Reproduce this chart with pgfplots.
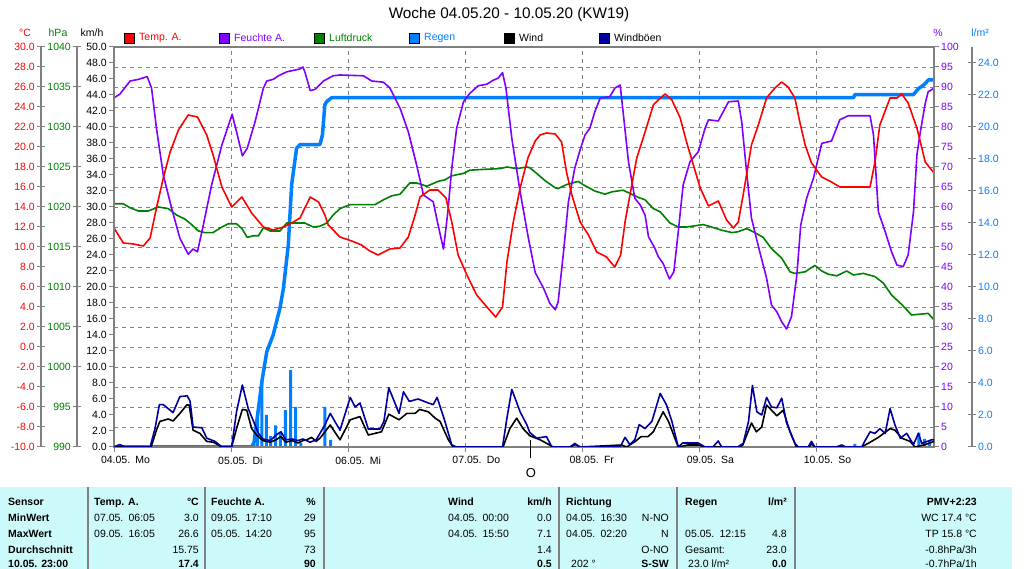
\documentclass[border=0pt]{standalone}
\usepackage{fontspec}
\setmainfont{Liberation Sans}
\usepackage{pgfplots}
\pgfplotsset{compat=1.18}

\definecolor{tred}{RGB}{255,0,0}
\definecolor{hpurple}{RGB}{128,0,255}
\definecolor{pgreen}{RGB}{0,128,0}
\definecolor{rblue}{RGB}{0,128,255}
\definecolor{gnavy}{RGB}{0,0,160}
\definecolor{fgray}{RGB}{128,128,128}
\definecolor{tabcyan}{RGB}{204,250,250}

\newcommand\tfont{\fontsize{10.5}{12}\selectfont}

\pgfplotsset{
  base/.style={scale only axis, width=820pt, height=400pt,
    at={(114pt,122pt)}, anchor=south west, xmin=0, xmax=168},
  hidden/.style={base, hide axis},
  numfmt/.style={/pgf/number format/fixed, /pgf/number format/fixed zerofill,
    /pgf/number format/precision=#1, /pgf/number format/assume math mode=true,
    /pgf/number format/1000 sep={}},
  sideaxis/.style={scale only axis, width=1pt, height=400pt,
    anchor=south west, xmin=0, xmax=1, hide x axis,
    axis line style={fgray, line width=1.2pt, -},
    tick style={fgray, line width=1pt}, major tick length=8pt,
    tick align=center},
}

% time axis: hours since 04.05. 00:00
\pgfplotstableread{
h   T
0     11.9
1.9   10.4
4.0   10.3
6.0   10.1
7.4   10.9
8.7   13.9
10.1  16.9
11.5  19.5
13.2  21.7
15.2  23.2
17.1  23.0
19.0  21.2
20.3  19.2
22.1  16.0
24.1  14.0
26.2  15.0
28.2  13.4
30.6  12.0
32.6  11.7
34.7  12.0
36.4  12.4
38.1  12.9
40.2  15.0
41.9  14.5
43.2  13.2
43.9  12.2
46.3  11.0
48.7  10.6
50.7  10.2
52.4  9.6
54.1  9.2
56.5  9.8
58.6  9.9
60.3  11.0
61.7  13.2
62.7  15.0
64.7  15.7
66.4  15.7
68.0  14.9
69.2  12.5
70.5  9.2
72.3  7.2
74.3  5.2
76.4  4.0
78.2  3.0
79.6  4.0
80.5  8.5
81.8  12.5
83.2  15.9
84.8  18.9
86.3  20.6
87.3  21.2
88.6  21.4
90.4  21.3
91.7  20.5
92.7  17.5
93.8  15.2
95.5  12.5
97.2  11.2
98.9  9.5
100.9 9.0
102.6 8.0
103.8 9.2
104.7 12.5
105.7 15.2
107.1 18.9
108.8 21.5
110.5 24.2
111.5 24.7
112.9 25.3
114.3 24.7
116.0 22.9
117.3 20.5
118.7 18.2
120.1 15.9
121.8 14.1
123.8 14.6
125.5 12.7
126.9 11.9
127.9 12.5
128.9 15.2
130.6 20.2
132.0 22.2
133.7 24.9
135.4 25.9
136.8 26.5
138.1 26.0
139.5 24.9
140.5 22.5
141.6 20.2
142.9 18.4
145.0 17.0
147.0 16.5
148.7 16.0
154.9 16.0
155.9 18.5
156.9 22.2
159.0 24.9
160.4 24.9
161.4 25.3
162.7 24.4
164.5 21.9
166.2 18.5
168.0 17.4
}\temp

\pgfplotstableread{
h   RH
0     87.3
1.2   88.2
3.3   91.5
5.0   91.9
6.8   92.6
7.7   89.7
8.7   79.7
10.1  68
11.8  59.7
13.5  52.2
15.2  48.2
16.2  49.5
17.1  48.8
18.3  55.5
20.0  65.5
22.1  75.5
24.2  83.2
25.1  78.8
26.3  72.8
27.3  74.7
28.9  81.3
30.6  89.7
31.3  91.5
32.6  91.9
33.7  92.8
35.4  93.8
38.1  94.5
38.7  95
39.1  93.8
40.2  89.1
41.2  89.4
42.9  91.5
44.9  92.8
46.3  93
51.1  92.8
52.8  91.5
55.2  91.2
56.5  89.8
58.6  84.7
60.3  78.8
62.0  70.5
63.4  63
65.4  61.3
66.4  55.5
67.5  49.5
68.4  58.8
69.2  69.7
70.2  79.7
71.6  86.3
72.9  88.4
74.6  90.3
76.4  90.7
77.7  91.7
78.7  92.2
79.6  93.6
80.3  89.7
81.5  77.2
83.2  63.8
84.9  52.2
86.3  43.6
88.0  39.7
89.3  35.9
90.4  34.3
91.0  36.3
92.1  48.8
93.1  61.3
94.4  69.7
95.5  74.3
96.5  78
97.5  79.7
98.5  83.8
99.6  87.2
101.6 87.6
102.6 89.7
103.7 90.5
104.3 83.8
105.4 71.3
106.7 62.2
107.8 60.5
108.8 58
109.5 52.6
110.8 49.7
111.5 47.6
112.5 45.9
113.8 42
114.7 43.8
115.6 53.8
116.6 65.5
118.0 71.3
119.7 73.8
121.1 79.7
121.8 81.8
123.8 81.5
125.9 86.3
127.9 86.5
128.6 81.3
129.6 68.8
130.6 57.2
132.3 48.8
133.7 42.2
134.7 35.5
135.8 33.8
136.8 31.3
137.8 29.5
138.8 32.6
139.9 43
140.7 55.5
141.9 62.2
143.3 67.2
145.0 75.9
147.0 76.5
148.7 81.8
150.4 82.8
154.9 82.8
155.6 78
156.6 58.8
158.0 53.8
159.3 48.8
160.4 45.5
161.7 45.1
162.7 48
163.8 58.8
164.5 73
165.2 78.8
166.2 85.9
166.8 88.8
168.0 89.7
}\hum

\pgfplotstableread{
h   p
0     1020.4
1.9   1020.4
3.3   1019.9
5.0   1019.5
7.0   1019.5
9.1   1020.0
11.1  1019.8
12.8  1019.0
14.5  1018.5
15.9  1017.8
17.3  1017.0
18.6  1016.8
20.3  1016.8
22.1  1017.5
23.4  1017.9
25.1  1017.9
26.2  1017.3
27.3  1016.2
28.5  1016.4
29.6  1016.4
30.6  1017.4
32.0  1017.0
34.0  1017.0
35.4  1018.0
39.1  1018.0
40.8  1017.5
42.2  1017.6
43.6  1018.0
44.9  1019.0
46.3  1019.8
48.4  1020.3
53.5  1020.3
55.2  1020.9
56.9  1021.4
58.6  1021.6
60.6  1023.0
62.0  1023.0
64.1  1022.6
66.4  1023.2
67.8  1023.4
69.2  1023.9
71.6  1024.2
72.9  1024.6
75.7  1024.7
79.1  1024.8
80.5  1025.0
82.5  1024.8
84.6  1025.0
85.2  1024.9
86.6  1024.2
88.3  1023.3
90.4  1022.4
91.0  1022.3
92.7  1022.8
95.1  1023.2
96.1  1022.8
98.5  1022.0
100.6 1021.6
102.0 1021.9
104.3 1022.1
105.7 1021.7
107.4 1021.2
108.8 1020.9
110.5 1019.8
111.9 1019.4
113.9 1018.0
115.6 1017.5
117.3 1017.5
120.7 1017.8
122.4 1017.5
124.5 1017.1
126.6 1016.8
127.8 1016.9
129.6 1017.3
131.3 1016.8
133.0 1016.2
134.7 1014.8
136.8 1013.6
138.5 1011.9
139.5 1011.7
141.6 1011.9
143.6 1012.7
145.0 1012.0
146.3 1011.6
148.1 1011.4
150.1 1012.0
151.5 1011.5
153.5 1011.7
155.9 1011.3
157.6 1010.5
159.3 1009.0
161.4 1007.8
163.4 1006.5
165.1 1006.6
166.8 1006.7
168.0 1005.9
}\press

\pgfplotstableread{
h   v
0     0
7.6   0
8.7   2.1
9.4   3.2
11.1  3.5
12.1  3.25
13.5  4.2
14.9  5.25
15.4  5.25
16.2  2.1
17.6  1.7
19.0  0.7
20.3  0.6
21.4  0.25
22.0  0
24.1  0
25.1  2.3
26.3  4.7
27.2  4.6
28.2  2.3
29.2  1.5
30.5  0.8
32.0  0.6
33.2  0.9
34.2  1.3
35.2  0.6
36.5  0.8
37.7  0.5
38.7  0.8
39.5  0.9
40.5  1.2
41.4  0.7
42.2  1.1
44.3  2.75
46.3  0.9
48.4  3.4
50.4  3.8
52.1  1.5
54.8  1.9
56.3  4.1
58.4  3.4
60.0  4.2
61.7  4.2
62.6  4.7
64.4  4.4
65.8  3.6
66.8  3.2
68.5  0.9
69.5  0
79.7  0
81.1  2.3
82.5  3.6
83.8  2.3
85.2  1.4
87.3  0.9
89.7  0.1
90.0  0
93.5  0
94.5  0.3
95.5  0
104.0 0.25
105.0 0
106.8 0.7
108.0 1.3
109.4 1.3
110.5 1.9
112.5 4.4
113.6 3.2
115.6 0
117.6 0.25
119.7 0.25
121.0 0
127.8 0
128.8 0.2
130.6 3.0
131.6 1.9
132.7 2.5
133.7 5.25
135.8 3.9
137.1 4.6
138.5 1.9
139.8 0
142.5 0
142.9 0.45
143.5 0
153.1 0
154.5 0.45
156.6 1.2
159.0 2.3
160.0 2.1
161.4 1.1
163.1 0.7
164.1 0
166.2 0.3
168.0 0.7
}\wind

\pgfplotstableread{
h   g
0     0
1.2   0.3
2.3   0
7.4   0
8.4   2.3
9.3   5.3
10.1  5.3
12.1  4.3
13.5  6.3
15.0  6.4
15.6  5.7
16.2  2.5
18.0  2.4
19.0  1.1
20.7  0.7
21.7  0.2
22.1  0
24.1  0
25.1  4.4
26.3  7.75
27.5  4.8
28.9  2.75
29.6  1.7
30.5  1.0
32.0  0.8
33.2  1.5
34.2  1.9
35.2  0.9
36.5  1.0
37.7  0.8
38.7  1.0
40.2  0.6
41.4  0.9
42.2  1.7
43.2  2.75
44.3  4.2
46.3  2.1
48.4  6.2
49.4  5.0
50.4  5.5
52.1  2.25
54.5  2.25
55.3  3.2
56.3  7.4
58.4  4.2
59.3  6.9
60.5  5.7
62.3  6.0
64.4  5.5
65.4  5.3
66.2  6.2
67.8  3.2
69.2  0.25
70.2  0
79.6  0
80.5  3.6
81.5  7.2
83.2  4.4
84.6  2.75
85.2  1.8
86.6  1.1
88.6  1.3
89.7  0
93.4  0
94.4  0.45
95.5  0
103.7 0
104.7 1.2
105.7 0.3
106.7 0.9
107.6 2.8
108.8 2.3
110.2 3.2
111.9 6.7
113.2 5.25
114.3 3.2
115.6 0
116.5 0.5
119.7 0.5
121.1 0
122.7 0
123.8 0.75
124.5 0
127.8 0
128.9 0.45
130.0 3.2
130.8 7.7
131.7 4.4
132.7 4.0
133.7 6.2
134.7 5.0
135.8 4.9
136.8 6.1
137.8 3.0
139.5 0.45
140.2 0
142.2 0
142.9 0.7
143.6 0
147.9 0
149.1 0.25
149.9 0
153.2 0
153.8 0.7
154.9 1.9
155.9 1.7
156.9 2.3
158.0 1.7
159.0 4.8
160.0 2.75
161.1 1.1
162.4 1.7
163.8 0.3
164.8 1.7
165.5 0.45
167.5 0.9
168.0 0.9
}\gust

\pgfplotstableread{
h   r
28.7  0.2
29.4  2.1
30.3  4.1
31.2  2.0
32.1  0.7
33.1  1.35
34.1  0.95
35.1  2.3
36.2  4.8
37.2  2.5
38.3  0.25
43.2  2.5
44.4  0.45
151.8 0.2
164.9 0.9
166.1 0.5
167.1 0.4
}\rainbars

\pgfplotstableread{
h   sum
0     0
28.2  0
28.7  0.3
29.5  2.2
30.3  4.1
31.3  5.95
32.6  7.0
34.0  8.67
34.7  9.9
35.7  12.6
36.4  16.4
37.4  18.67
38.1  18.9
42.2  18.9
42.7  19.5
43.2  21.4
43.6  21.6
44.6  21.83
151.5 21.83
151.8 22.03
163.8 22.03
164.8 22.4
165.8 22.6
166.9 22.95
168.0 22.95
}\raintotal

\begin{document}
\begin{tikzpicture}[font=\tfont]
\useasboundingbox (0,0) rectangle (1024pt,569pt);
\fill[white] (0,0) rectangle (1024pt,569pt);

% title
\node[font=\fontsize{15.3}{18}\selectfont] at (509pt,554pt) {Woche 04.05.20 - 10.05.20 (KW19)};

% grid
\begin{axis}[base, ymin=-10, ymax=30,
  xtick={24,48,...,144}, ytick={-8,-6,...,28},
  xticklabels={}, yticklabels={}, major tick length=0pt,
  axis line style={draw=none}, tick style={draw=none},
  grid=major, major grid style={fgray, line width=0.8pt, dash pattern=on 4pt off 4pt}]
\end{axis}

% rain (l/m2)
\begin{axis}[hidden, ymin=0, ymax=25]
\addplot[ybar, bar width=3pt, fill=rblue, draw=none] table[x=h, y=r] {\rainbars};
\addplot[rblue, line width=3.5pt, line join=round] table[x=h, y=sum] {\raintotal};
\end{axis}

% pressure (hPa)
\begin{axis}[hidden, ymin=990, ymax=1040]
\addplot[pgreen, line width=1.6pt, line join=round] table[x=h, y=p] {\press};
\end{axis}

% humidity (%)
\begin{axis}[base, ymin=0, ymax=100, hide x axis, axis y line*=right,
  axis line style={fgray, line width=2pt, -},
  ytick={0,5,...,100}, tick align=outside, major tick length=5pt,
  tick style={fgray, line width=1pt},
  yticklabel style={text=hpurple, inner sep=2pt}, y tick label style={numfmt=0}]
\addplot[hpurple, line width=1.6pt, line join=round] table[x=h, y=RH] {\hum};
\end{axis}

% temperature (C)
\begin{axis}[hidden, ymin=-10, ymax=30]
\addplot[tred, line width=1.6pt, line join=round] table[x=h, y=T] {\temp};
\end{axis}

% wind (km/h) and frame
\begin{axis}[base, ymin=0, ymax=50,
  axis line style={fgray, line width=2pt},
  tick style={fgray, line width=1pt}, tick align=outside, major tick length=5pt,
  ytick={0,2,...,50}, ytick pos=left, xtick pos=bottom,
  yticklabel style={inner sep=2pt}, y tick label style={numfmt=1},
  xtick={0,24,...,144},
  xticklabels={04.05.\enspace Mo, 05.05.\enspace Di, 06.05.\enspace Mi, 07.05.\enspace Do, 08.05.\enspace Fr, 09.05.\enspace Sa, 10.05.\enspace So},
  xticklabel style={anchor=north west, xshift=-16.5pt, yshift=-1pt}]
\addplot[black, line width=1.6pt, line join=round] table[x=h, y=v] {\wind};
\addplot[gnavy, line width=1.6pt, line join=round] table[x=h, y=g] {\gust};
\end{axis}

% extra scales
\begin{axis}[sideaxis, at={(41pt,122pt)}, axis y line*=left, ymin=-10, ymax=30,
  ytick={-10,-8,...,30}, yticklabel style={text=tred, inner sep=2pt}, y tick label style={numfmt=1}]
\end{axis}
\begin{axis}[sideaxis, at={(77pt,122pt)}, axis y line*=left, ymin=990, ymax=1040,
  ytick={990,995,...,1040}, yticklabel style={text=pgreen, inner sep=2pt}, y tick label style={numfmt=0}]
\end{axis}
\begin{axis}[sideaxis, at={(971pt,122pt)}, axis y line*=right, ymin=0, ymax=25,
  ytick={0,2,...,24}, yticklabel style={text=rblue, inner sep=2pt}, y tick label style={numfmt=1}]
\end{axis}

% unit labels
\node[text=tred] at (25pt,536pt) {°C};
\node[text=pgreen] at (58pt,536pt) {hPa};
\node at (92pt,536pt) {km/h};
\node[text=hpurple] at (938pt,536pt) {\%};
\node[text=rblue] at (980pt,536pt) {l/m²};

% legend
\foreach \x/\c/\t/\tc in {124/tred/Temp. A./tred, 219/hpurple/Feuchte A./hpurple,
  314/pgreen/Luftdruck/pgreen, 409/rblue/Regen/rblue, 504/black/Wind/black,
  599/gnavy/Windböen/black}{
  \draw[black, line width=0.8pt, fill=\c] (\x pt,526pt) rectangle ++(10pt,10pt);
  \node[anchor=west, inner sep=0pt, text=\tc] at (\x pt+15pt,531pt) {\t};
}

% cursor
\draw[black, line width=0.8pt] (530pt,129pt) -- (530pt,111pt);
\node[font=\fontsize{13}{15}\selectfont] at (531pt,96pt) {O};

% statistics table
\fill[tabcyan] (0,0) rectangle (1012pt,82pt);
\foreach \x in {88,205,324,559,677,795}
  \draw[fgray, line width=1.5pt] (\x pt,0) -- (\x pt,82pt);
\begin{scope}[every node/.style={inner sep=0pt}]
\foreach \y/\t in {63/Sensor, 47.3/MinWert, 31.3/MaxWert, 15.5/Durchschnitt, 1.5/10.05. 23:00}
  \node[anchor=base west, font=\tfont\bfseries] at (8pt,\y pt) {\t};
% Temp
\node[anchor=base west, font=\tfont\bfseries] at (94pt,63pt) {Temp. A.};
\node[anchor=base east, font=\tfont\bfseries] at (199pt,63pt) {°C};
\node[anchor=base west] at (94pt,47.3pt) {07.05.\enspace 06:05};
\node[anchor=base east] at (199pt,47.3pt) {3.0};
\node[anchor=base west] at (94pt,31.3pt) {09.05.\enspace 16:05};
\node[anchor=base east] at (199pt,31.3pt) {26.6};
\node[anchor=base east] at (199pt,15.5pt) {15.75};
\node[anchor=base east, font=\tfont\bfseries] at (199pt,1.5pt) {17.4};
% Feuchte
\node[anchor=base west, font=\tfont\bfseries] at (211pt,63pt) {Feuchte A.};
\node[anchor=base east, font=\tfont\bfseries] at (316pt,63pt) {\%};
\node[anchor=base west] at (211pt,47.3pt) {09.05.\enspace 17:10};
\node[anchor=base east] at (316pt,47.3pt) {29};
\node[anchor=base west] at (211pt,31.3pt) {05.05.\enspace 14:20};
\node[anchor=base east] at (316pt,31.3pt) {95};
\node[anchor=base east] at (316pt,15.5pt) {73};
\node[anchor=base east, font=\tfont\bfseries] at (316pt,1.5pt) {90};
% Wind
\node[anchor=base west, font=\tfont\bfseries] at (448pt,63pt) {Wind};
\node[anchor=base east, font=\tfont\bfseries] at (552pt,63pt) {km/h};
\node[anchor=base west] at (448pt,47.3pt) {04.05.\enspace 00:00};
\node[anchor=base east] at (552pt,47.3pt) {0.0};
\node[anchor=base west] at (448pt,31.3pt) {04.05.\enspace 15:50};
\node[anchor=base east] at (552pt,31.3pt) {7.1};
\node[anchor=base east] at (552pt,15.5pt) {1.4};
\node[anchor=base east, font=\tfont\bfseries] at (552pt,1.5pt) {0.5};
% Richtung
\node[anchor=base west, font=\tfont\bfseries] at (566pt,63pt) {Richtung};
\node[anchor=base west] at (566pt,47.3pt) {04.05.\enspace 16:30};
\node[anchor=base east] at (669pt,47.3pt) {N-NO};
\node[anchor=base west] at (566pt,31.3pt) {04.05.\enspace 02:20};
\node[anchor=base east] at (669pt,31.3pt) {N};
\node[anchor=base east] at (669pt,15.5pt) {O-NO};
\node[anchor=base west] at (571pt,1.5pt) {202 °};
\node[anchor=base east, font=\tfont\bfseries] at (669pt,1.5pt) {S-SW};
% Regen
\node[anchor=base west, font=\tfont\bfseries] at (685pt,63pt) {Regen};
\node[anchor=base east, font=\tfont\bfseries] at (787pt,63pt) {l/m²};
\node[anchor=base west] at (685pt,31.3pt) {05.05.\enspace 12:15};
\node[anchor=base east] at (787pt,31.3pt) {4.8};
\node[anchor=base west] at (685pt,15.5pt) {Gesamt:};
\node[anchor=base east] at (787pt,15.5pt) {23.0};
\node[anchor=base west] at (688pt,1.5pt) {23.0 l/m²};
\node[anchor=base east, font=\tfont\bfseries] at (787pt,1.5pt) {0.0};
% PMV
\node[anchor=base east, font=\tfont\bfseries] at (977pt,63pt) {PMV+2:23};
\node[anchor=base east] at (977pt,47.3pt) {WC 17.4 °C};
\node[anchor=base east] at (977pt,31.3pt) {TP 15.8 °C};
\node[anchor=base east] at (977pt,15.5pt) {-0.8hPa/3h};
\node[anchor=base east] at (977pt,1.5pt) {-0.7hPa/1h};
\end{scope}
\end{tikzpicture}
\end{document}
